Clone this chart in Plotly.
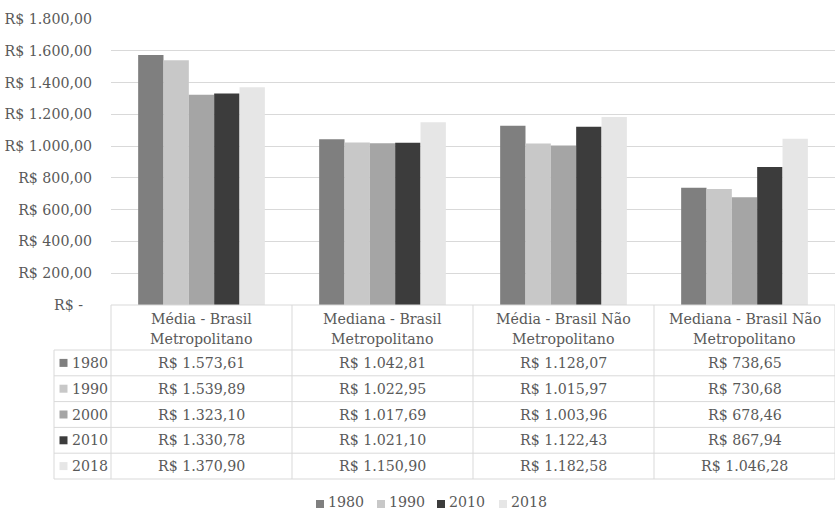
import plotly.graph_objects as go

# Categories (two-line header labels) and yearly series
categories = [
    "Média - Brasil<br>Metropolitano",
    "Mediana - Brasil<br>Metropolitano",
    "Média - Brasil Não<br>Metropolitano",
    "Mediana - Brasil Não<br>Metropolitano",
]
years = ["1980", "1990", "2000", "2010", "2018"]
v1980 = [1573.61, 1042.81, 1128.07, 738.65]
v1990 = [1539.89, 1022.95, 1015.97, 730.68]
v2000 = [1323.10, 1017.69, 1003.96, 678.46]
v2010 = [1330.78, 1021.10, 1122.43, 867.94]
v2018 = [1370.90, 1150.90, 1182.58, 1046.28]
series = [v1980, v1990, v2000, v2010, v2018]
legend_years = ["1980", "1990", "2010", "2018"]

tick_vals = [0, 200, 400, 600, 800, 1000, 1200, 1400, 1600, 1800]

colors = ["#7f7f7f", "#c8c8c8", "#a5a5a5", "#3c3c3c", "#e6e6e6"]
TEXT = "#595959"
LINE = "#d9d9d9"
FONT = "DejaVu Serif"
FS = 14.2

W, H = 835, 511


def brl(v):
    s = f"{v:,.2f}"
    s = s.replace(",", "X").replace(".", ",").replace("X", ".")
    return "R$ " + s


def tick_label(v):
    return "R$ -\u00a0\u00a0" if v == 0 else brl(v)


def px(x):
    return x / W


def py(y):
    return 1 - y / H


# plot-area geometry (pixels)
X0, X1 = 111, 835
Y_TOP, Y_ZERO = 19, 305
ROW_X0 = 54
HEADER_BOTTOM = 350
ROW_H = 25.8

fig = go.Figure()
for name, vals, col in zip(years, series, colors):
    fig.add_trace(go.Bar(
        x=categories, y=vals, name=name, marker_color=col,
        marker_line_width=0, showlegend=False,
    ))

shapes = []
annotations = []
n = len(categories)
cat_w = (X1 - X0) / n
color_of = dict(zip(years, colors))


def hline(x0, x1, y):
    shapes.append(dict(type="line", xref="paper", yref="paper",
                       x0=px(x0), x1=px(x1), y0=py(y), y1=py(y),
                       line=dict(color=LINE, width=1)))


def vline(x, y0, y1):
    shapes.append(dict(type="line", xref="paper", yref="paper",
                       x0=px(x), x1=px(x), y0=py(y0), y1=py(y1),
                       line=dict(color=LINE, width=1)))


def swatch(x, cy, col, size=8):
    shapes.append(dict(type="rect", xref="paper", yref="paper",
                       x0=px(x), x1=px(x + size), y0=py(cy - size / 2), y1=py(cy + size / 2),
                       fillcolor=col, line=dict(width=0)))


def label(x, y, text, anchor="center"):
    annotations.append(dict(xref="paper", yref="paper", x=px(x), y=py(y),
                            text=text, showarrow=False, xanchor=anchor, yanchor="middle",
                            borderpad=0,
                            font=dict(family=FONT, size=FS, color=TEXT)))


# data table grid
table_bottom = HEADER_BOTTOM + ROW_H * len(years)
hline(X0, X1, Y_ZERO)
for r in range(len(years) + 1):
    hline(ROW_X0, X1, HEADER_BOTTOM + r * ROW_H)
vline(ROW_X0, HEADER_BOTTOM, table_bottom)
for i in range(n + 1):
    vline(X0 + i * cat_w, Y_ZERO, table_bottom)

# header labels (two lines each)
for i, cat in enumerate(categories):
    cx = X0 + (i + 0.5) * cat_w
    for j, line in enumerate(cat.split("<br>")):
        label(cx, 319 + j * 19.5, line)

# table body
for r, (name, vals) in enumerate(zip(years, series)):
    cy = HEADER_BOTTOM + (r + 0.5) * ROW_H
    swatch(59.5, cy, color_of[name])
    label(71, cy, name, "left")
    for i, v in enumerate(vals):
        label(X0 + (i + 0.5) * cat_w, cy, brl(v))

# legend row
LEG_X = [316, 377, 437, 499]
for x, name in zip(LEG_X, legend_years):
    swatch(x, 504, color_of[name])
    label(x + 11, 502, name, "left")

fig.update_layout(
    width=W, height=H,
    margin=dict(l=0, r=0, t=0, b=0, autoexpand=False),
    paper_bgcolor="white", plot_bgcolor="white",
    barmode="group", bargap=0.30, bargroupgap=0,
    font=dict(family=FONT, size=FS, color=TEXT),
    showlegend=False,
    xaxis=dict(domain=[px(X0), px(X1)], showticklabels=False, showgrid=False,
               showline=False, zeroline=False, fixedrange=True),
    yaxis=dict(domain=[py(Y_ZERO), py(Y_TOP)], range=[0, 1800],
               tickvals=tick_vals, ticktext=[tick_label(v) for v in tick_vals],
               showgrid=True, gridcolor=LINE, gridwidth=1, zeroline=False,
               showline=False, ticks="", ticklabelstandoff=18,
               tickfont=dict(family=FONT, size=FS, color=TEXT)),
    shapes=shapes, annotations=annotations,
)

fig.write_html("out.html")
